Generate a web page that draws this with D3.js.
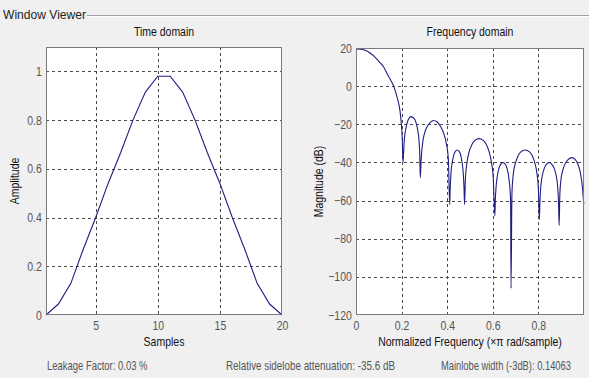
<!DOCTYPE html>
<html>
<head>
<meta charset="utf-8">
<script src="https://cdn.jsdelivr.net/npm/d3@7"></script>
<style>
  html, body { margin: 0; padding: 0; background: #f0f0f0; }
  svg { display: block; }
  text { font-family: "Liberation Sans", Arial, sans-serif; }
</style>
</head>
<body>
<svg id="chart" width="589" height="378"></svg>
<script>
// ---- Time domain data ----
const sampleIdx = [1,2,3,4,5,6,7,8,9,10,11,12,13,14,15,16,17,18,19,20];
const amplitude = [0,0.045,0.13,0.27,0.40,0.54,0.665,0.80,0.915,0.98,0.98,0.915,0.80,0.665,0.54,0.40,0.27,0.13,0.045,0];
const timeXTicks = [5,10,15,20];
const timeYTicks = [0,0.2,0.4,0.6,0.8,1];

// ---- Frequency domain data (normalized freq, magnitude dB) ----
const freq = [
  0,0.02,0.04,0.06,0.08,0.10,0.12,0.14,0.155,0.165,0.175,0.185,0.193,0.199,0.203,0.206,
  0.2083,0.212,0.2174,0.225,0.232,0.240,0.2554,0.263,0.2706,0.276,0.2797,0.282,
  0.286,0.292,0.300,0.313,0.326,0.340,0.356,0.370,0.384,0.396,0.405,0.411,
  0.413,0.417,0.422,0.429,0.436,0.444,0.452,0.459,0.465,0.470,0.474,0.476,
  0.480,0.487,0.496,0.509,0.523,0.540,0.557,0.571,0.584,0.594,0.602,0.609,
  0.611,0.615,0.620,0.627,0.635,0.645,0.655,0.662,0.669,0.674,0.678,0.680,
  0.684,0.690,0.699,0.711,0.723,0.742,0.761,0.773,0.785,0.794,0.800,0.804,
  0.807,0.811,0.817,0.826,0.835,0.847,0.859,0.869,0.878,0.884,0.888,0.891,
  0.894,0.899,0.906,0.918,0.930,0.946,0.962,0.975,0.985,0.993,0.999
];
const magnitude = [
  19.5,19.4,18.8,17.5,15.6,13.0,10.3,5.7,2.5,0,-3.5,-8,-13,-20,-28,-40,
  -36,-28,-23,-19,-17,-16,-17,-19,-23,-28,-36,-48,
  -38,-30,-25,-21,-19,-18,-18.8,-21,-24.5,-30,-38,-62,
  -54,-45,-40,-36,-34.2,-33.5,-34.2,-36,-40,-45,-54,-62,
  -48,-40,-34.5,-30.5,-28.3,-27.5,-28.3,-30.5,-34.5,-40,-48,-68,
  -60,-52,-47,-43,-41,-40,-41,-43,-47,-52,-60,-106,
  -56,-46,-40.5,-36.5,-34.5,-33.5,-34.5,-36.5,-40.5,-46,-54,-70,
  -60,-52,-47,-43,-41,-40,-41,-43,-47,-52,-60,-73,
  -57,-49,-44.5,-40.5,-38.5,-37.5,-38.5,-41.5,-46,-53,-62
];
const freqXTicks = [0,0.2,0.4,0.6,0.8];
const freqYTicks = [-120,-100,-80,-60,-40,-20,0,20];

const svg = d3.select("#chart");
const lineColor = "#1e1e82";
const boxColor = "#7a7a7a";
const gridColor = "#4a4a4a";
const tickColor = "#555";
const SQ = 0.84;

// narrow text helper: places text at (x,y) and squeezes it horizontally
function narrowText(parent, x, y, str, opts = {}) {
  const sx = opts.sx || SQ;
  const rot = opts.rotate ? " rotate(-90)" : "";
  return parent.append("text")
    .attr("transform", `translate(${x},${y})${rot} scale(${sx},1)`)
    .attr("text-anchor", opts.anchor || "start")
    .attr("font-size", opts.size || 12.5)
    .attr("fill", opts.fill || "#111")
    .text(str);
}

// Group box
narrowText(svg, 3, 19, "Window Viewer", { size: 13, fill: "#222", sx: 0.93 });
svg.append("line").attr("x1", 87).attr("x2", 589).attr("y1", 15.5).attr("y2", 15.5).attr("stroke", "#a0a0a0");
svg.append("line").attr("x1", 87).attr("x2", 589).attr("y1", 16.5).attr("y2", 16.5).attr("stroke", "#ffffff");

function panel(opts) {
  const { x0, x1, y0, y1, xDomain, yDomain, xTicks, yTicks, xFmt, yFmt, title, xLabel, yLabel, yLabelX, xs, ys, curve } = opts;
  const x = d3.scaleLinear().domain(xDomain).range([x0, x1]);
  const y = d3.scaleLinear().domain(yDomain).range([y1, y0]);
  const g = svg.append("g");
  g.append("rect").attr("x", x0).attr("y", y0).attr("width", x1 - x0).attr("height", y1 - y0).attr("fill", "#fff");
  // grid
  g.selectAll(".vg").data(xTicks.filter(t => x(t) > x0 + 1 && x(t) < x1 - 1)).enter().append("line")
    .attr("x1", d => Math.round(x(d)) + 0.5).attr("x2", d => Math.round(x(d)) + 0.5)
    .attr("y1", y0).attr("y2", y1).attr("stroke", gridColor).attr("stroke-dasharray", "3,3");
  g.selectAll(".hg").data(yTicks.filter(t => y(t) > y0 + 1 && y(t) < y1 - 1)).enter().append("line")
    .attr("y1", d => Math.round(y(d)) + 0.5).attr("y2", d => Math.round(y(d)) + 0.5)
    .attr("x1", x0).attr("x2", x1).attr("stroke", gridColor).attr("stroke-dasharray", "3,3");
  // axes (labels only, via d3 axis)
  const xa = g.append("g").attr("transform", `translate(0,${y1})`)
    .call(d3.axisBottom(x).tickValues(xTicks).tickFormat(xFmt).tickSize(0).tickPadding(6));
  const ya = g.append("g").attr("transform", `translate(${x0},0)`)
    .call(d3.axisLeft(y).tickValues(yTicks).tickFormat(yFmt).tickSize(0).tickPadding(5));
  [xa, ya].forEach(a => {
    a.select(".domain").remove();
    a.selectAll("text").attr("font-size", 12.5).attr("fill", tickColor)
      .style("font-family", '"Liberation Sans", Arial, sans-serif')
      .attr("transform", `scale(${SQ},1)`);
  });
  // data line
  const line = d3.line().x((d, i) => x(xs[i])).y((d, i) => y(ys[i])).curve(curve);
  g.append("path").datum(xs).attr("d", line).attr("fill", "none").attr("stroke", lineColor).attr("stroke-width", 1.1);
  // box
  g.append("rect").attr("x", x0 + 0.5).attr("y", y0 + 0.5).attr("width", x1 - x0 - 1).attr("height", y1 - y0 - 1)
    .attr("fill", "none").attr("stroke", boxColor);
  // titles
  narrowText(svg, (x0 + x1) / 2, 36, title, { anchor: "middle" });
  narrowText(svg, (x0 + x1) / 2, 346, xLabel, { anchor: "middle" });
  narrowText(svg, yLabelX, (y0 + y1) / 2, yLabel, { anchor: "middle", rotate: true });
}

panel({
  x0: 46, x1: 282, y0: 47, y1: 315,
  xDomain: [1, 20], yDomain: [0, 1.1],
  xTicks: timeXTicks, yTicks: timeYTicks,
  xFmt: d3.format("d"), yFmt: d => d === 0 || d === 1 ? String(d) : d3.format(".1f")(d),
  title: "Time domain", xLabel: "Samples", yLabel: "Amplitude", yLabelX: 19,
  xs: sampleIdx, ys: amplitude, curve: d3.curveLinear
});

panel({
  x0: 356, x1: 584, y0: 48, y1: 315,
  xDomain: [0, 1], yDomain: [-120, 20],
  xTicks: freqXTicks, yTicks: freqYTicks,
  xFmt: d => d === 0 ? "0" : d3.format(".1f")(d), yFmt: d3.format("d"),
  title: "Frequency domain", xLabel: "Normalized Frequency  (\u00d7\u03c0 rad/sample)", yLabel: "Magnitude (dB)", yLabelX: 323,
  xs: freq, ys: magnitude, curve: d3.curveMonotoneX
});

// footer
const footTexts = ["Leakage Factor: 0.03 %", "Relative sidelobe attenuation: -35.6 dB", "Mainlobe width (-3dB): 0.14063"];
const footX = [47, 226, 441];
const footSx = [0.79, 0.82, 0.78];
footTexts.forEach((t, i) => narrowText(svg, footX[i], 370, t, { size: 12, fill: "#555", sx: footSx[i] }));
</script>
</body>
</html>
